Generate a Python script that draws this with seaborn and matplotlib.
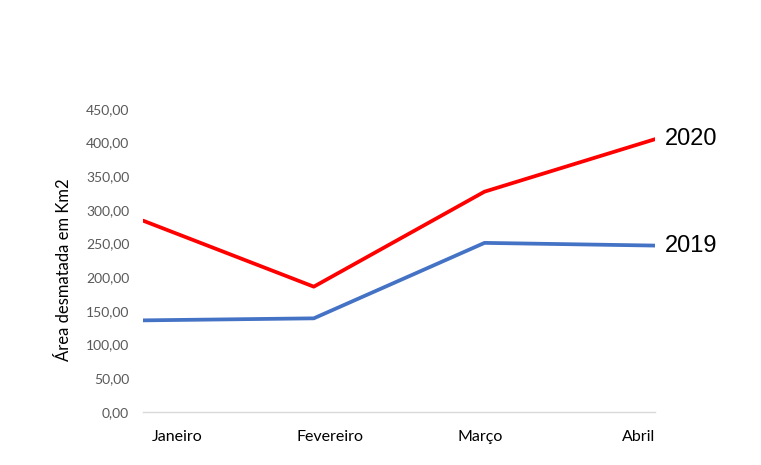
import matplotlib
matplotlib.use("Agg")
import matplotlib.pyplot as plt
import pandas as pd
import seaborn as sns
from matplotlib.ticker import FuncFormatter

""" Data """
months = ["Janeiro", "Fevereiro", "Março", "Abril"]
area_2019 = [136, 139, 251, 247]
area_2020 = [284, 186, 327, 405]
series_names = ["2019", "2020"]
yticks = [0, 50, 100, 150, 200, 250, 300, 350, 400, 450]

""" Style """
sns.set_style("white")
plt.rcParams["font.family"] = ["Lato", "DejaVu Sans"]
colors = {"2019": "#4472C4", "2020": "#FF0000"}
# horizontal nudges (points) of the month labels, as placed in the original
month_offsets = [24.5, 11.5, -3.0, -12.0]

df = pd.DataFrame(
    {
        "Mês": months * 2,
        "Área": area_2019 + area_2020,
        "Ano": ["2019"] * len(months) + ["2020"] * len(months),
    }
)

fig = plt.figure(figsize=(7.61, 4.65), dpi=100)
ax = fig.add_axes([0.188, 0.114, 0.673, 0.652])

sns.lineplot(
    data=df, x="Mês", y="Área", hue="Ano", palette=colors,
    linewidth=2.7, sort=False, legend=False, ax=ax,
)

ax.set(xlim=(0, len(months) - 1), ylim=(0, 450), yticks=yticks)
ax.set_xticks(range(len(months)))
ax.set_xticklabels([])
ax.yaxis.set_major_formatter(FuncFormatter(lambda v, p: f"{v:.2f}".replace(".", ",")))
ax.tick_params(axis="y", labelsize=10, labelcolor="#595959", length=0, pad=10)
ax.tick_params(axis="x", length=0)

# month labels
for i, (m, dx) in enumerate(zip(months, month_offsets)):
    ax.annotate(
        m, xy=(i, 0), xycoords=("data", "axes fraction"),
        xytext=(dx, -13), textcoords="offset points",
        ha="center", va="top", fontsize=11.5, color="black",
        annotation_clip=False,
    )

ax.set_xlabel("")
ax.set_ylabel("Área desmatada em Km2", fontsize=12, color="black")
ax.yaxis.set_label_coords(-0.139, 0.47)

sns.despine(ax=ax, left=True, top=True, right=True)
ax.spines["bottom"].set_color("#D9D9D9")
ax.spines["bottom"].set_linewidth(1.0)

# series labels at the end of each line
for name, values in zip(series_names, [area_2019, area_2020]):
    ax.annotate(
        name, xy=(len(months) - 1, values[-1]), xytext=(7, 0),
        textcoords="offset points", ha="left", va="center",
        fontsize=17, family="Liberation Sans", color="black",
        annotation_clip=False,
    )

fig.savefig("out.png", dpi=100)
